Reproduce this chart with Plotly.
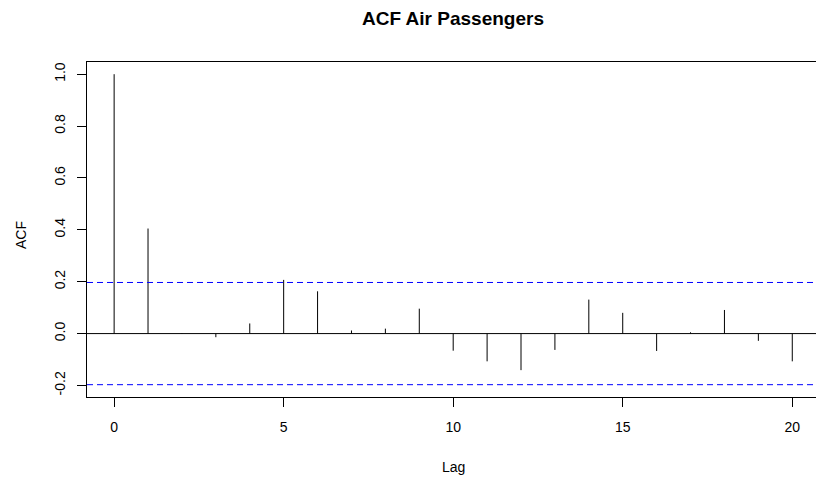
import plotly.graph_objects as go

# Sample autocorrelation of the Air Passengers series, lags 0..20
lags = list(range(21))
acf_values = [1.000, 0.405, 0.002, -0.014, 0.039, 0.207, 0.163, 0.012, 0.019, 0.096,
              -0.066, -0.107, -0.141, -0.063, 0.131, 0.080, -0.067, 0.005, 0.091, -0.028,
              -0.107]
conf_limit = 0.197  # approximate 95% white-noise bound

x_ticks = [0, 5, 10, 15, 20]
y_ticks = [-0.2, 0.0, 0.2, 0.4, 0.6, 0.8, 1.0]

FONT = "Liberation Sans, Arial, sans-serif"

# vertical spikes from zero to each autocorrelation value
spike_x, spike_y = [], []
for lag, val in zip(lags, acf_values):
    spike_x += [lag, lag, None]
    spike_y += [0, val, None]

fig = go.Figure()
fig.add_trace(go.Scatter(x=spike_x, y=spike_y, mode="lines",
                         line=dict(color="black", width=1),
                         hoverinfo="skip", showlegend=False))

# zero line and confidence bounds across the full panel
fig.add_shape(type="line", xref="paper", yref="y", x0=0, x1=1, y0=0, y1=0,
              line=dict(color="black", width=1))
for lim in (conf_limit, -conf_limit):
    fig.add_shape(type="line", xref="paper", yref="y", x0=0, x1=1, y0=lim, y1=lim,
                  line=dict(color="#0000FF", width=1, dash="6px,4px"))

fig.update_layout(
    width=816, height=479,
    margin=dict(l=87, r=0, t=62, b=82),
    paper_bgcolor="white", plot_bgcolor="white",
    font=dict(family=FONT, size=14, color="black"),
    title=dict(text="<b>ACF Air Passengers</b>", x=(87 + 819) / 2 / 816, xanchor="center",
               y=1 - 18 / 479, yanchor="middle",
               font=dict(family=FONT, size=19, color="black")),
    showlegend=False,
)

fig.update_xaxes(
    range=[-0.8, 20.7], tickvals=x_ticks, ticktext=[str(v) for v in x_ticks],
    showgrid=False, zeroline=False,
    showline=True, linecolor="black", linewidth=1, mirror=True,
    ticks="outside", ticklen=9, tickcolor="black", tickwidth=1,
    ticklabelstandoff=8,
    tickfont=dict(family=FONT, size=14, color="black"),
)
fig.update_yaxes(
    range=[-0.2445, 1.047], tickvals=y_ticks, ticktext=[f"{v:.1f}" for v in y_ticks],
    showgrid=False, zeroline=False,
    showline=True, linecolor="black", linewidth=1, mirror=False,
    ticks="outside", ticklen=9, tickcolor="black", tickwidth=1,
    tickangle=-90, ticklabelstandoff=6,
    tickfont=dict(family=FONT, size=14, color="black"),
)

# axis titles
fig.add_annotation(text="Lag", xref="paper", yref="paper", x=(453 - 87) / 729, y=0,
                   xanchor="center", yanchor="middle", yshift=-(467 - 397),
                   showarrow=False, font=dict(family=FONT, size=14, color="black"))
fig.add_annotation(text="ACF", xref="paper", yref="paper", x=0, y=(397 - 235) / 335,
                   xanchor="center", yanchor="middle", xshift=-(87 - 21), textangle=-90,
                   showarrow=False, font=dict(family=FONT, size=14, color="black"))

fig.write_html("out.html")
